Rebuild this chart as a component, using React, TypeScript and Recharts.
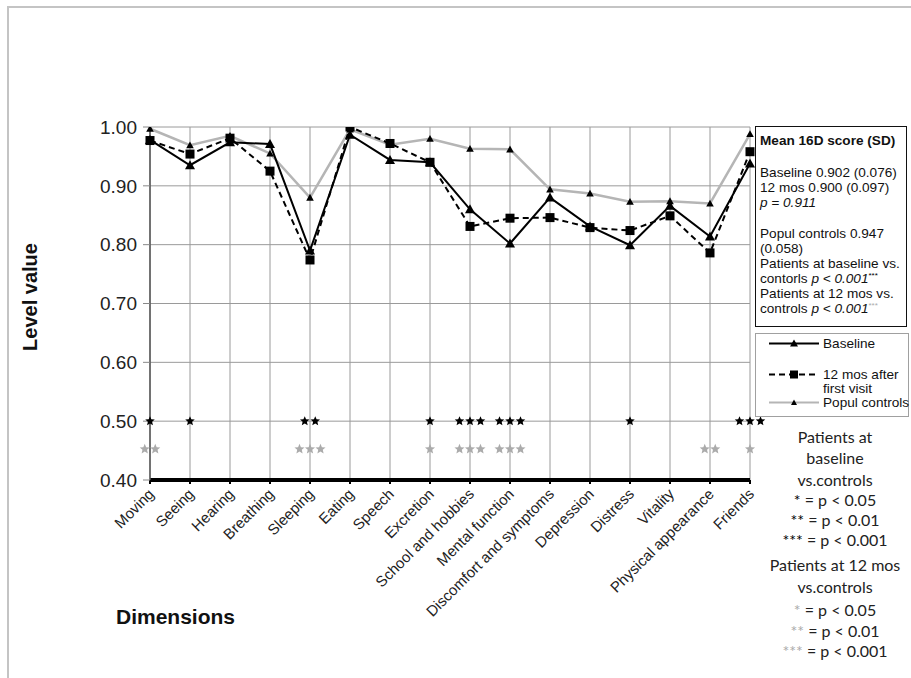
import React from "react";
import { LineChart, Line, XAxis, YAxis, CartesianGrid } from "recharts";

const categories = [
  "Moving", "Seeing", "Hearing", "Breathing", "Sleeping", "Eating", "Speech", "Excretion",
  "School and hobbies", "Mental function", "Discomfort and symptoms", "Depression", "Distress",
  "Vitality", "Physical appearance", "Friends",
];
const baseline = [0.978, 0.935, 0.974, 0.971, 0.79, 0.987, 0.944, 0.94, 0.86, 0.802, 0.88, 0.831, 0.799, 0.866, 0.814, 0.938];
const mos12 = [0.977, 0.954, 0.981, 0.925, 0.774, 1.0, 0.972, 0.94, 0.831, 0.845, 0.846, 0.829, 0.824, 0.849, 0.786, 0.958];
const controls = [0.997, 0.969, 0.985, 0.955, 0.88, 0.996, 0.97, 0.98, 0.963, 0.962, 0.894, 0.887, 0.873, 0.874, 0.87, 0.988];
// number of significance stars per dimension
const sigBaseline = [1, 1, 0, 0, 2, 0, 0, 1, 3, 3, 0, 0, 1, 0, 0, 3];
const sig12mos = [2, 0, 0, 0, 3, 0, 0, 1, 3, 3, 0, 0, 0, 0, 2, 1];
const yTicks = [0.4, 0.5, 0.6, 0.7, 0.8, 0.9, 1.0];

const data = categories.map((c, i) => ({
  name: c,
  baseline: baseline[i],
  mos12: mos12[i],
  controls: controls[i],
  sigB: sigBaseline[i],
  sig12: sig12mos[i],
}));

const FONT = "'Liberation Sans', Arial, sans-serif";
const GRAY = "#ababab";

const starPath = (cx: number, cy: number, ro: number, ri: number) => {
  const pts: string[] = [];
  for (let k = 0; k < 10; k++) {
    const r = k % 2 === 0 ? ro : ri;
    const a = -Math.PI / 2 + (k * Math.PI) / 5;
    pts.push(`${(cx + r * Math.cos(a)).toFixed(2)},${(cy + r * Math.sin(a)).toFixed(2)}`);
  }
  return pts.join(" ");
};

const makeStars = (key: "sigB" | "sig12", color: string, spacing: number, ro: number) => (props: any) => {
  const { cx, cy, payload, index } = props;
  const n = payload[key] as number;
  if (!n || cx == null) return <g key={`s-${key}-${index}`} />;
  const start = cx - ((n - 1) * spacing) / 2;
  return (
    <g key={`s-${key}-${index}`}>
      {Array.from({ length: n }).map((_, j) => (
        <polygon key={j} points={starPath(start + j * spacing, cy, ro, ro * 0.45)} fill={color} />
      ))}
    </g>
  );
};

const TriDot = (size: number) => (props: any) => {
  const { cx, cy, index } = props;
  if (cx == null) return <g key={index} />;
  return (
    <polygon
      key={index}
      points={`${cx},${cy - size} ${cx - size},${cy + size * 0.8} ${cx + size},${cy + size * 0.8}`}
      fill="#000"
    />
  );
};

const SqDot = (props: any) => {
  const { cx, cy, index } = props;
  if (cx == null) return <g key={index} />;
  return <rect key={index} x={cx - 4.5} y={cy - 4.5} width={9} height={9} fill="#000" />;
};

const XTick = (props: any) => {
  const { x, y, payload } = props;
  const tx = x + 5;
  const ty = y + 9;
  return (
    <text
      x={tx}
      y={ty}
      textAnchor="end"
      transform={`rotate(-45 ${tx} ${ty})`}
      fontSize={15}
      fill="#222"
      fontFamily={FONT}
    >
      {payload.value}
    </text>
  );
};

const abs = (left: number, top: number, extra: React.CSSProperties = {}): React.CSSProperties => ({
  position: "absolute",
  left,
  top,
  whiteSpace: "nowrap",
  ...extra,
});

const boxLine = (top: number, content: React.ReactNode, bold = false) => (
  <div style={abs(4, top, { fontSize: 13.6, lineHeight: "15px", height: 15, fontWeight: bold ? 700 : 400, color: "#111" })}>{content}</div>
);

const supStars = (color: string) => (
  <span style={{ fontSize: 8, color, position: "relative", top: -5, lineHeight: "8px", verticalAlign: "baseline" }}>***</span>
);

const legendText = (top: number, text: string) => (
  <div style={abs(67, top, { fontSize: 13.6, lineHeight: "14px", height: 14, color: "#111" })}>{text}</div>
);

export default function App() {
  const bottomLines: { t: React.ReactNode; y: number }[] = [
    { t: "Patients at", y: 437 },
    { t: "baseline", y: 458 },
    { t: "vs.controls", y: 480 },
    { t: <><span style={{ color: "#000" }}>*</span> = p &lt; 0.05</>, y: 500 },
    { t: <><span style={{ color: "#000" }}>**</span> = p &lt; 0.01</>, y: 520 },
    { t: <><span style={{ color: "#000" }}>***</span> = p &lt; 0.001</>, y: 540 },
    { t: "Patients at 12 mos", y: 565 },
    { t: "vs.controls", y: 587 },
    { t: <><span style={{ color: GRAY }}>*</span> = p &lt; 0.05</>, y: 610 },
    { t: <><span style={{ color: GRAY }}>**</span> = p &lt; 0.01</>, y: 631 },
    { t: <><span style={{ color: GRAY }}>***</span> = p &lt; 0.001</>, y: 651 },
  ];

  return (
    <div style={{ position: "absolute", left: 0, top: 0, width: 911, height: 678, background: "#fff", fontFamily: FONT, overflow: "hidden" }}>
      {/* page frame */}
      <div style={{ position: "absolute", left: 7, top: 6, width: 920, height: 700, borderTop: "2px solid #c4c4c4", borderLeft: "2px solid #c4c4c4" }} />

      <div style={{ position: "absolute", left: 0, top: 0 }}>
        <LineChart width={911} height={678} data={data} margin={{ top: 127, right: 161, bottom: 138, left: 90 }}>
          <CartesianGrid stroke="#9a9a9a" strokeWidth={1} />
          <XAxis
            dataKey="name"
            interval={0}
            height={60}
            axisLine={{ stroke: "#000", strokeWidth: 4 }}
            tickLine={{ stroke: "#000", strokeWidth: 2 }}
            tickSize={4}
            tickMargin={2}
            tick={<XTick />}
          />
          <YAxis
            width={60}
            domain={[0.4, 1.0]}
            ticks={yTicks}
            tickFormatter={(v: number) => v.toFixed(2)}
            axisLine={{ stroke: "#555", strokeWidth: 1.5 }}
            tickLine={{ stroke: "#888" }}
            tickSize={7}
            tickMargin={6}
            tick={{ fontSize: 19, fill: "#222", fontFamily: FONT }}
            allowDataOverflow
          />
          <Line
            dataKey={() => 0.5}
            stroke="none"
            isAnimationActive={false}
            dot={makeStars("sigB", "#000", 10.5, 5)}
            activeDot={false}
          />
          <Line
            dataKey={() => 0.4525}
            stroke="none"
            isAnimationActive={false}
            dot={makeStars("sig12", GRAY, 10.5, 5.3)}
            activeDot={false}
          />
          <Line
            dataKey="controls"
            stroke="#b5b5b5"
            strokeWidth={2.5}
            isAnimationActive={false}
            dot={TriDot(3.8)}
            activeDot={false}
          />
          <Line
            dataKey="mos12"
            stroke="#000"
            strokeWidth={2}
            strokeDasharray="6 4"
            isAnimationActive={false}
            dot={SqDot}
            activeDot={false}
          />
          <Line
            dataKey="baseline"
            stroke="#000"
            strokeWidth={2}
            isAnimationActive={false}
            dot={TriDot(5)}
            activeDot={false}
          />
        </LineChart>
      </div>

      {/* axis titles */}
      <div style={abs(30, 297, { transform: "translate(-50%, -50%) rotate(-90deg)", fontSize: 20, fontWeight: 700, color: "#111" })}>
        Level value
      </div>
      <div style={abs(116, 605, { fontSize: 21, fontWeight: 700, color: "#111", lineHeight: "24px" })}>Dimensions</div>

      {/* stats box */}
      <div style={{ position: "absolute", left: 755, top: 126, width: 150, height: 199, border: "1.5px solid #111", background: "#fff" }}>
        {boxLine(6, "Mean 16D score (SD)", true)}
        {boxLine(38, "Baseline 0.902 (0.076)")}
        {boxLine(53, "12 mos 0.900 (0.097)")}
        {boxLine(68, <i>p = 0.911</i>)}
        {boxLine(99, "Popul controls 0.947")}
        {boxLine(114, "(0.058)")}
        {boxLine(129, "Patients at baseline vs.")}
        {boxLine(144, <>contorls <i>p &lt; 0.001</i>{supStars("#000")}</>)}
        {boxLine(159, "Patients at 12 mos vs.")}
        {boxLine(174, <>controls <i>p &lt; 0.001</i>{supStars(GRAY)}</>)}
      </div>

      {/* series legend */}
      <div style={{ position: "absolute", left: 755, top: 333, width: 152, height: 82, border: "1px solid #a0a0a0", background: "#fff" }}>
        <svg width={152} height={82} style={{ position: "absolute", left: 0, top: 0 }}>
          <line x1={13} x2={63} y1={9.5} y2={9.5} stroke="#000" strokeWidth={2} />
          <polygon points="38,5.5 34,12.5 42,12.5" fill="#000" />
          <line x1={13} x2={63} y1={40.5} y2={40.5} stroke="#000" strokeWidth={2} strokeDasharray="6 4" />
          <rect x={34} y={36.5} width={8} height={8} fill="#000" />
          <line x1={13} x2={63} y1={68.5} y2={68.5} stroke="#b5b5b5" strokeWidth={2} />
          <polygon points="38,65.5 35,71 41,71" fill="#000" />
        </svg>
        {legendText(3, "Baseline")}
        {legendText(34, "12 mos after")}
        {legendText(48, "first visit")}
        {legendText(62, "Popul controls")}
      </div>

      {/* significance key */}
      {bottomLines.map((l, i) => (
        <div
          key={i}
          style={abs(835, l.y, {
            transform: "translate(-50%, -50%)",
            fontFamily: "Lato, 'Open Sans', sans-serif",
            fontSize: 16,
            lineHeight: "20px",
            color: "#222",
          })}
        >
          {l.t}
        </div>
      ))}
    </div>
  );
}
